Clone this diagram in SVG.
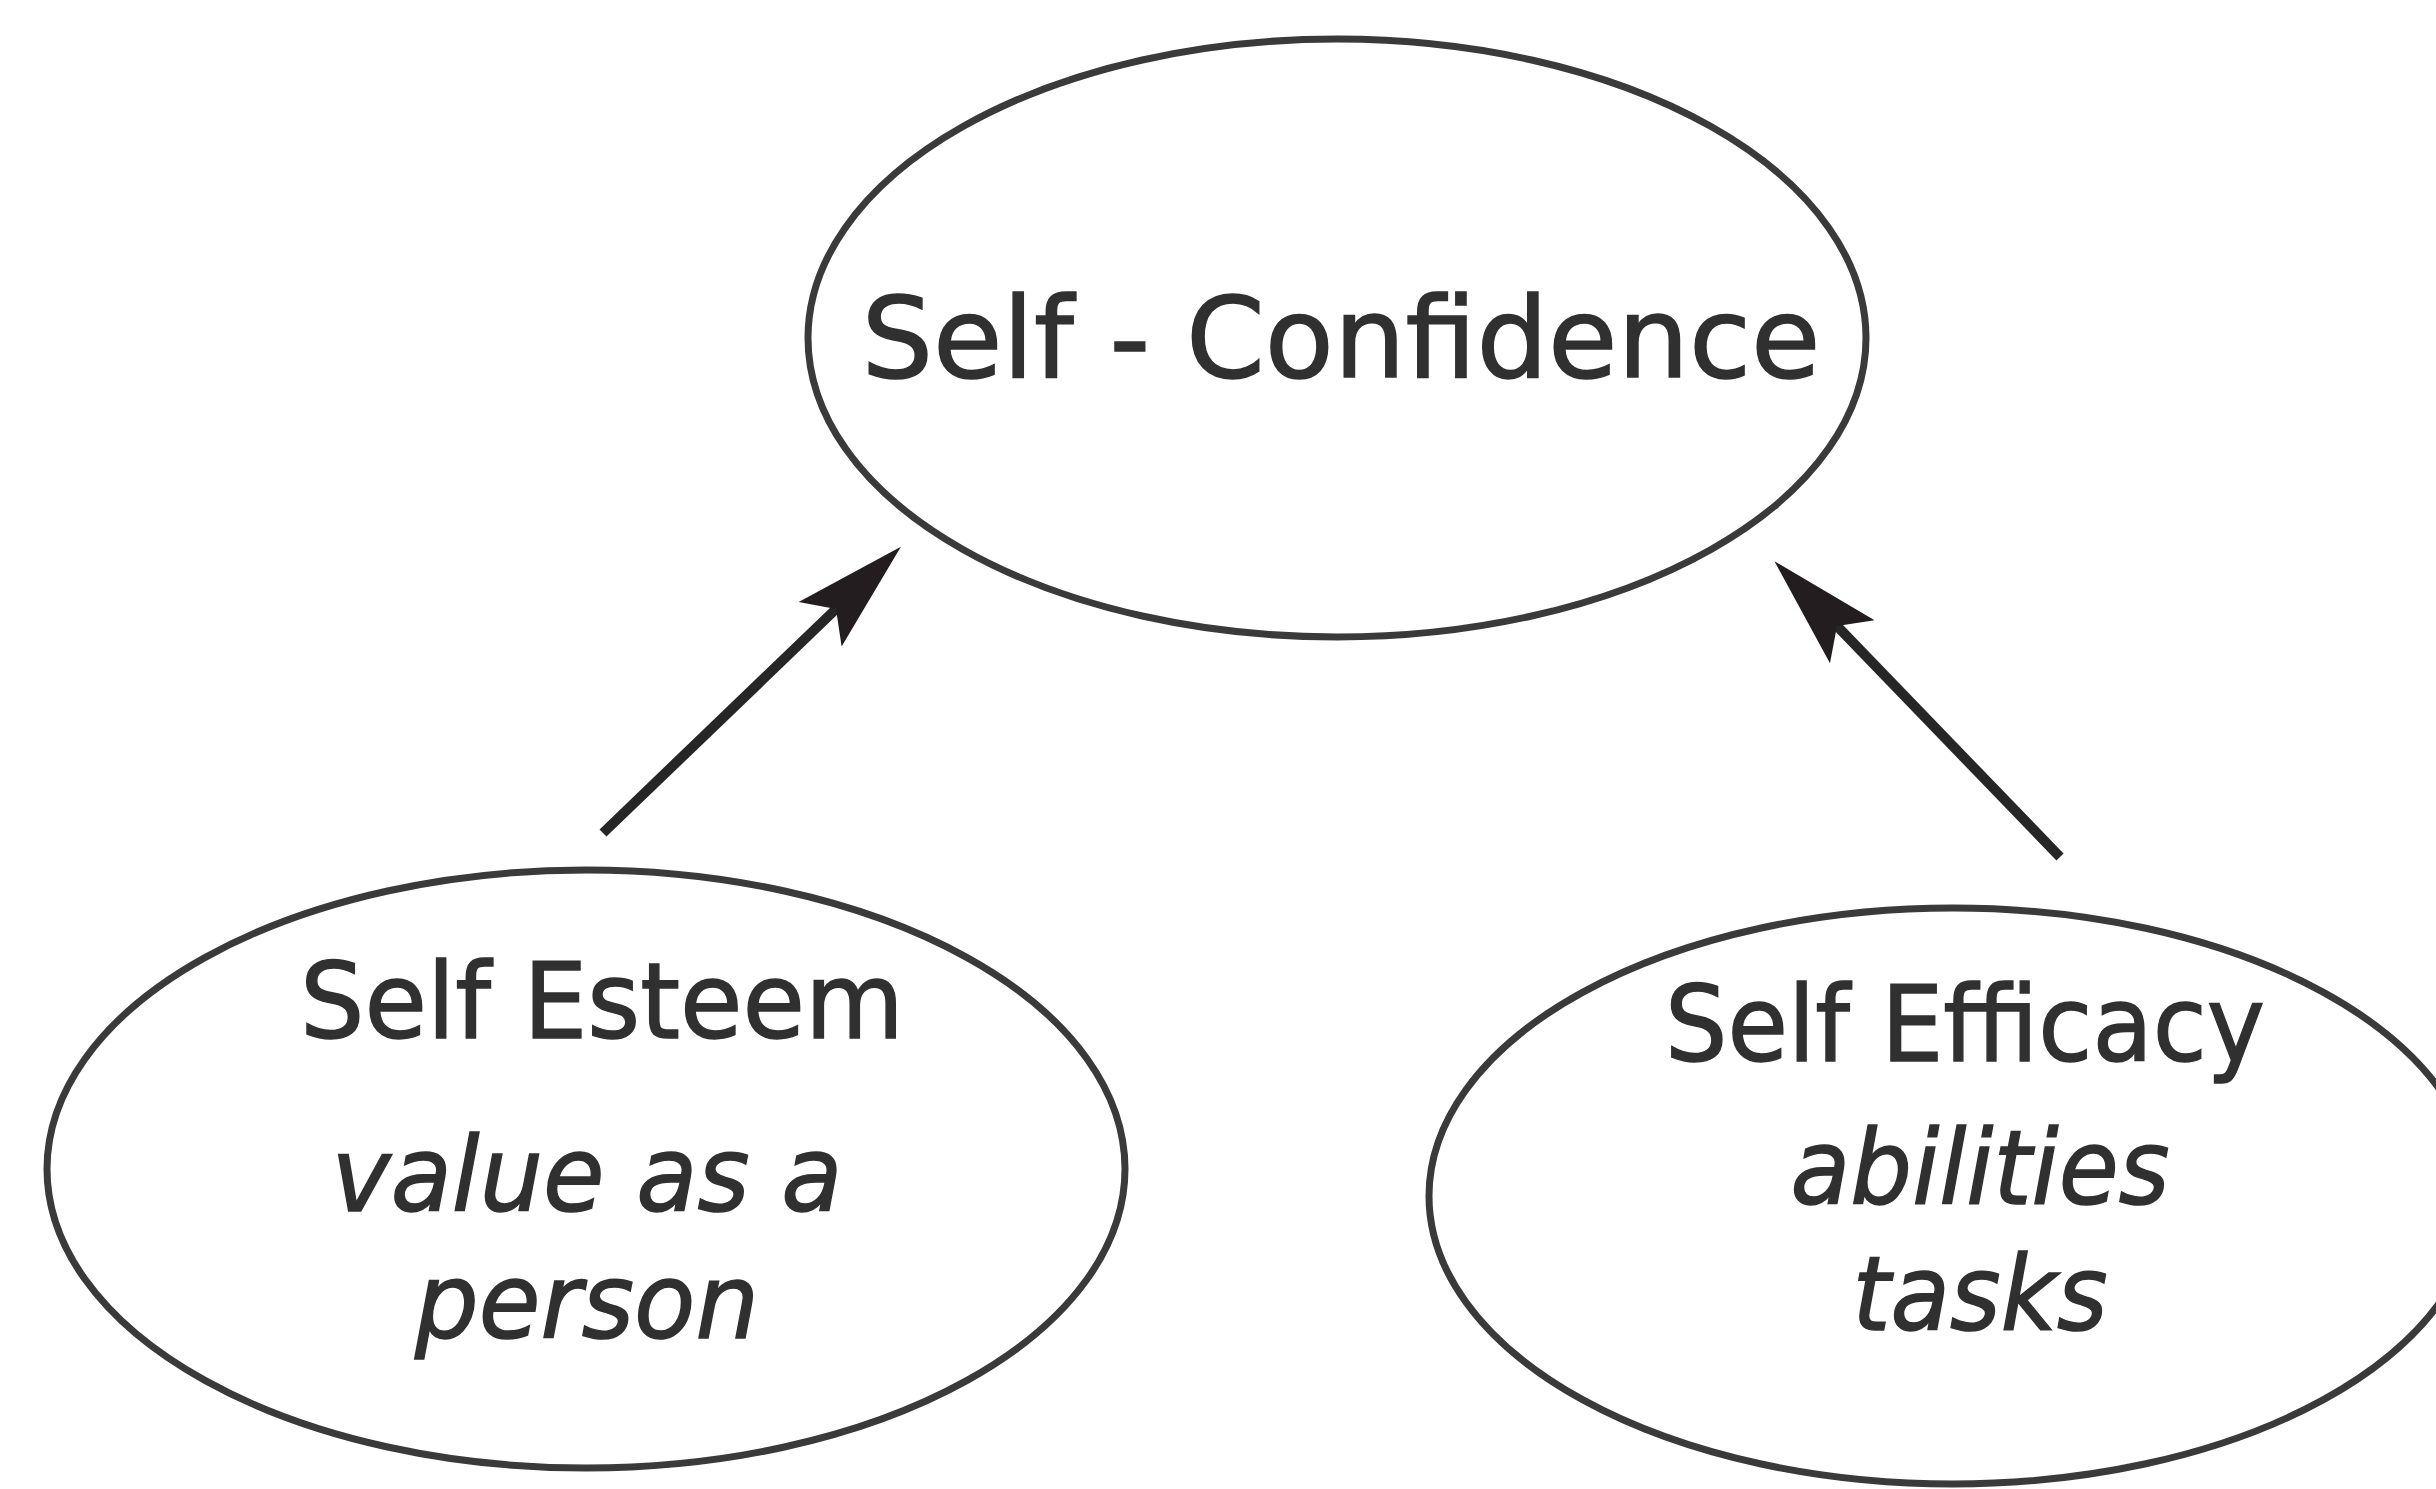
<svg xmlns="http://www.w3.org/2000/svg" width="2436" height="1489" viewBox="0 0 2436 1489">
<defs>
<style>
.node{fill:#fff;stroke:#3a3a3a;stroke-width:7}
.t{font-family:"DejaVu Sans","Liberation Sans",sans-serif;fill:#303030;text-anchor:middle;stroke:#303030;stroke-width:1.5}
.i{font-style:italic}
.edge{stroke:#262626;stroke-width:10;fill:none}
</style>
<marker id="ah" markerUnits="userSpaceOnUse" markerWidth="120" markerHeight="80" viewBox="0 0 120 80" refX="22" refY="40" orient="auto">
<path d="M112,40 L0,9 L22,40 L0,71 Z" fill="#241d20"/>
</marker>
</defs>
<rect width="2436" height="1489" fill="#fff"/>
<g id="n-confidence">
<ellipse class="node" cx="1337" cy="338" rx="529" ry="299"/>
<text class="t" x="1341" y="377" font-size="113" textLength="959" lengthAdjust="spacingAndGlyphs">Self - Confidence</text>
</g>
<g id="n-esteem">
<ellipse class="node" cx="586" cy="1169" rx="539" ry="299"/>
<text class="t" x="602" y="1038" font-size="106" textLength="604" lengthAdjust="spacingAndGlyphs">Self Esteem</text>
<text class="t i" x="587" y="1211" font-size="104" textLength="511" lengthAdjust="spacingAndGlyphs">value as a</text>
<text class="t i" x="587" y="1338" font-size="104" textLength="344" lengthAdjust="spacingAndGlyphs">person</text>
</g>
<g id="n-efficacy">
<ellipse class="node" cx="1953" cy="1196" rx="524" ry="288"/>
<text class="t" x="1965" y="1061" font-size="106" textLength="600" lengthAdjust="spacingAndGlyphs">Self Efficacy</text>
<text class="t i" x="1980" y="1204" font-size="104" textLength="379" lengthAdjust="spacingAndGlyphs">abilities</text>
<text class="t i" x="1980" y="1330" font-size="104" textLength="255" lengthAdjust="spacingAndGlyphs">tasks</text>
</g>
<g id="connectors">
<line class="edge" x1="603" y1="833" x2="836" y2="609" marker-end="url(#ah)"/>
<line class="edge" x1="2060" y1="857" x2="1837" y2="626" marker-end="url(#ah)"/>
</g>
</svg>
